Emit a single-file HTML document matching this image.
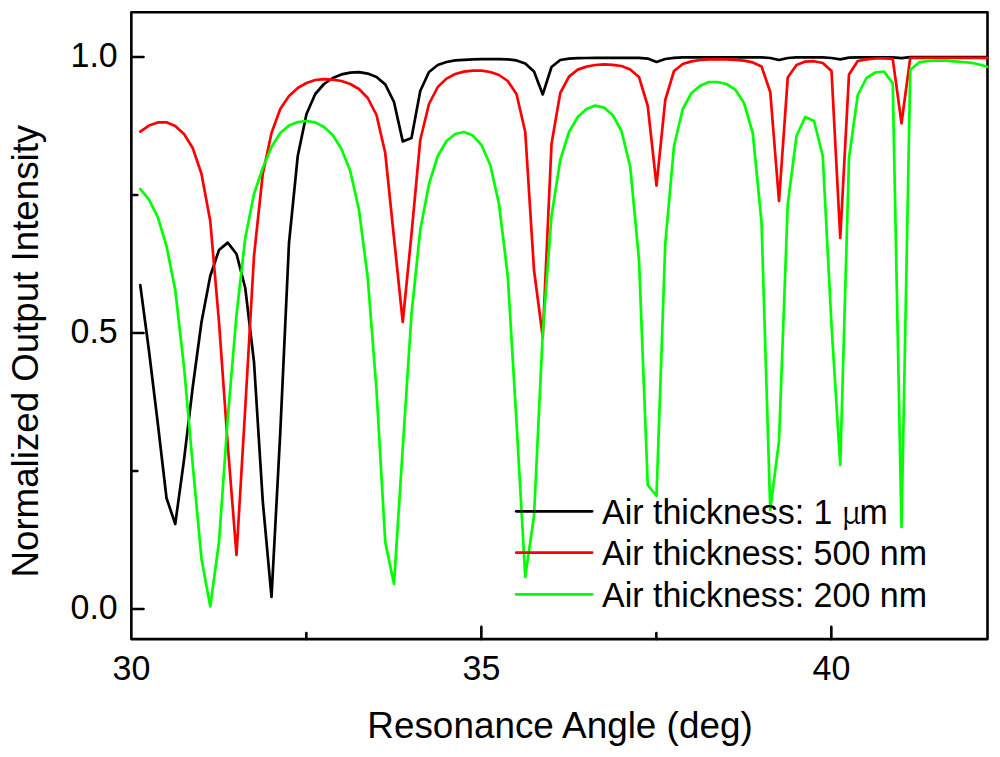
<!DOCTYPE html>
<html><head><meta charset="utf-8"><title>Normalized Output Intensity vs Resonance Angle</title>
<style>
html,body{margin:0;padding:0;background:#fff;}
body{width:1000px;height:757px;overflow:hidden;}
svg{display:block;}
text{font-family:"Liberation Sans",Arial,Helvetica,sans-serif;fill:#000;}
.t34 text{font-size:35.7px;}
.tlg text{font-size:34.2px;}
.t36 text{font-size:36.6px;}
.tlg text.mu{font-family:"Noto Serif CJK SC","Liberation Serif",serif;font-size:32px;}
</style></head>
<body>
<svg width="1000" height="757" viewBox="0 0 1000 757">
<rect x="0" y="0" width="1000" height="757" fill="#fff"/>
<defs><clipPath id="plot"><rect x="131.35" y="12.25" width="857.05" height="626.85"/></clipPath></defs>
<g stroke="#000" stroke-width="2.6" fill="none" stroke-linecap="round" stroke-linejoin="round">
<rect x="131.35" y="12.25" width="856.15" height="626.85"/>
<line x1="481.35" y1="639.1" x2="481.35" y2="626.9"/>
<line x1="831.35" y1="639.1" x2="831.35" y2="626.9"/>
<line x1="306.35" y1="639.1" x2="306.35" y2="633.1"/>
<line x1="656.35" y1="639.1" x2="656.35" y2="633.1"/>
<line x1="131.35" y1="609" x2="143.54999999999998" y2="609"/>
<line x1="131.35" y1="333.0" x2="143.54999999999998" y2="333.0"/>
<line x1="131.35" y1="57.0" x2="143.54999999999998" y2="57.0"/>
<line x1="131.35" y1="471.0" x2="137.35" y2="471.0"/>
<line x1="131.35" y1="195.0" x2="137.35" y2="195.0"/>
</g>
<g clip-path="url(#plot)" fill="none" stroke-width="2.7" stroke-linejoin="round" stroke-linecap="round">
<polyline stroke="#000" points="140.25,285.0 149.00,351.0 157.75,423.0 166.50,498.0 175.25,524.0 184.00,460.0 192.75,387.0 201.50,322.0 210.25,276.0 219.00,250.0 227.75,242.6 236.50,254.0 245.25,288.0 254.00,362.0 262.75,501.0 271.50,597.0 280.25,433.0 289.00,243.0 297.75,156.0 306.50,114.0 315.25,94.0 324.00,84.0 332.75,78.0 341.50,74.4 350.25,72.6 359.00,72.2 367.75,73.6 376.50,77.0 385.25,84.4 394.00,102.0 402.75,141.4 411.50,138.0 420.25,91.0 429.00,72.0 437.75,65.0 446.50,62.0 455.25,60.4 464.00,59.8 472.75,59.4 481.50,59.2 490.25,59.2 499.00,59.2 507.75,59.4 516.50,60.4 525.25,63.6 534.00,71.6 542.75,94.4 551.50,67.0 560.25,60.0 569.00,58.6 577.75,58.2 586.50,58.0 595.25,57.8 604.00,57.8 612.75,57.8 621.50,57.8 630.25,57.8 639.00,57.8 647.75,58.6 656.50,62.0 665.25,59.0 674.00,57.8 682.75,57.4 691.50,57.4 700.25,57.4 709.00,57.4 717.75,57.4 726.50,57.4 735.25,57.4 744.00,57.4 752.75,57.4 761.50,57.4 770.25,58.0 779.00,60.0 787.75,58.0 796.50,57.4 805.25,57.4 814.00,57.4 822.75,57.4 831.50,58.0 840.25,59.4 849.00,57.6 857.75,57.3 866.50,57.3 875.25,57.3 884.00,57.3 892.75,57.3 901.50,58.2 910.25,57.2 919.00,57.2 927.75,57.2 936.50,57.2 945.25,57.2 954.00,57.2 962.75,57.2 971.50,57.2 980.25,57.2 989.00,57.2"/>
<polyline stroke="#f00" points="140.25,131.6 149.00,125.6 157.75,122.4 166.50,122.3 175.25,126.0 184.00,134.0 192.75,148.0 201.50,174.0 210.25,221.0 219.00,322.0 227.75,445.0 236.50,555.0 245.25,408.0 254.00,256.0 262.75,174.0 271.50,133.0 280.25,109.0 289.00,96.0 297.75,88.0 306.50,83.0 315.25,80.0 324.00,79.2 332.75,79.6 341.50,81.0 350.25,84.0 359.00,89.0 367.75,98.0 376.50,115.0 385.25,153.0 394.00,238.0 402.75,322.0 411.50,234.0 420.25,140.0 429.00,104.0 437.75,87.0 446.50,78.6 455.25,74.0 464.00,71.6 472.75,70.6 481.50,70.6 490.25,72.0 499.00,75.0 507.75,81.0 516.50,94.0 525.25,132.0 534.00,270.0 542.75,337.0 551.50,144.0 560.25,93.0 569.00,76.6 577.75,69.6 586.50,66.6 595.25,65.0 604.00,64.4 612.75,64.8 621.50,66.0 630.25,69.4 639.00,77.0 647.75,106.0 656.50,185.6 665.25,100.0 674.00,71.0 682.75,64.0 691.50,61.4 700.25,60.0 709.00,59.4 717.75,59.2 726.50,59.4 735.25,59.8 744.00,60.6 752.75,62.4 761.50,66.4 770.25,92.0 779.00,201.0 787.75,77.6 796.50,65.0 805.25,61.6 814.00,61.2 822.75,63.0 831.50,71.0 840.25,238.0 849.00,74.4 857.75,61.0 866.50,59.4 875.25,58.5 884.00,58.3 892.75,58.9 901.50,123.3 910.25,57.9 919.00,57.9 927.75,57.9 936.50,57.9 945.25,57.9 954.00,57.9 962.75,57.9 971.50,57.9 980.25,57.9 989.00,57.9"/>
<polyline stroke="#0f0" points="140.25,189.0 149.00,199.6 157.75,217.0 166.50,246.0 175.25,290.0 184.00,367.0 192.75,465.0 201.50,559.0 210.25,606.4 219.00,542.0 227.75,418.0 236.50,315.0 245.25,238.0 254.00,194.0 262.75,168.0 271.50,147.0 280.25,133.0 289.00,125.6 297.75,122.0 306.50,121.0 315.25,122.4 324.00,127.0 332.75,135.0 341.50,149.0 350.25,171.0 359.00,210.0 367.75,278.0 376.50,390.0 385.25,542.0 394.00,584.0 402.75,448.0 411.50,314.0 420.25,230.0 429.00,184.0 437.75,156.0 446.50,141.0 455.25,134.0 464.00,132.0 472.75,135.6 481.50,145.0 490.25,165.0 499.00,204.0 507.75,276.0 516.50,422.0 525.25,577.0 534.00,516.0 542.75,333.0 551.50,216.0 560.25,160.0 569.00,132.0 577.75,117.0 586.50,109.0 595.25,105.6 604.00,107.6 612.75,115.0 621.50,131.0 630.25,167.0 639.00,260.0 647.75,485.0 656.50,496.0 665.25,244.0 674.00,146.0 682.75,109.0 691.50,93.0 700.25,85.8 709.00,82.0 717.75,82.0 726.50,84.0 735.25,89.6 744.00,103.0 752.75,133.0 761.50,222.0 770.25,510.0 779.00,441.0 787.75,204.0 796.50,136.0 805.25,117.0 814.00,121.0 822.75,156.0 831.50,325.0 840.25,465.0 849.00,158.0 857.75,95.0 866.50,78.0 875.25,72.5 884.00,71.5 892.75,83.4 901.50,527.0 910.25,70.1 919.00,62.4 927.75,61.0 936.50,60.7 945.25,60.7 954.00,61.3 962.75,62.0 971.50,62.8 980.25,64.8 989.00,67.3"/>
</g>
<g fill="none" stroke-width="2.7" stroke-linecap="round">
<line x1="516.2" y1="511.35" x2="592.1" y2="511.35" stroke="#000"/>
<line x1="516.2" y1="552.7" x2="592.1" y2="552.7" stroke="#f00"/>
<line x1="516.2" y1="594.4" x2="592.1" y2="594.4" stroke="#0f0"/>
</g>
<g class="tlg">
<text x="602" y="523.6" textLength="230.5" lengthAdjust="spacingAndGlyphs">Air thickness: 1 </text>
<text x="841.2" y="523.6" class="mu">μ</text>
<text x="859.5" y="523.6" textLength="28.3" lengthAdjust="spacingAndGlyphs">m</text>
<text x="602" y="565.2" textLength="325" lengthAdjust="spacingAndGlyphs">Air thickness: 500 nm</text>
<text x="602" y="606.9" textLength="325" lengthAdjust="spacingAndGlyphs">Air thickness: 200 nm</text>
</g>
<g class="t34">
<text x="70.5" y="66.5" textLength="47.27" lengthAdjust="spacingAndGlyphs">1.0</text>
<text x="70.5" y="342.5" textLength="47.27" lengthAdjust="spacingAndGlyphs">0.5</text>
<text x="70.5" y="618.5" textLength="47.27" lengthAdjust="spacingAndGlyphs">0.0</text>
<text x="112.6" y="679.5" textLength="37.83" lengthAdjust="spacingAndGlyphs">30</text>
<text x="462.6" y="679.5" textLength="37.83" lengthAdjust="spacingAndGlyphs">35</text>
<text x="812.6" y="679.5" textLength="37.83" lengthAdjust="spacingAndGlyphs">40</text>
</g>
<g class="t36">
<text x="367.3" y="738" textLength="385.4" lengthAdjust="spacingAndGlyphs">Resonance Angle (deg)</text>
<text transform="translate(37.8,577.5) rotate(-90)" textLength="452.7" lengthAdjust="spacingAndGlyphs">Normalized Output Intensity</text>
</g>
</svg>
</body></html>
